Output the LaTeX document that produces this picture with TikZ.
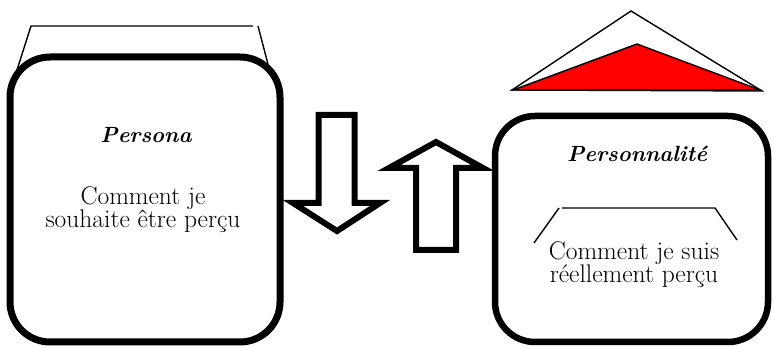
\documentclass[tikz,border=0pt]{standalone}
\usepackage{fontspec}
\begin{document}
\begin{tikzpicture}[x=1pt,y=-1pt,
  bigbox/.style={draw=black,line width=7pt,rounded corners=40pt,inner sep=0pt,fill=none},
  thin/.style={draw=black,line width=1.4pt},
  fatarrow/.style={draw=black,line width=6pt,line join=miter,fill=white},
  label/.style={font=\fontsize{25.5}{23}\selectfont,align=center,anchor=base,inner sep=0pt},
  title/.style={font=\fontsize{22}{23}\selectfont\bfseries\itshape,anchor=base,inner sep=0pt}]
\useasboundingbox (0,0) rectangle (774,347);
% left box
\node[bigbox,minimum width=270pt,minimum height=285pt] (persona) at (145,199.5) {};
\draw[thin] (17,70) -- (31,26) -- (253,26);
\draw[thin] (258,26) -- (269,68);
\node[title] (ptitle) at (146,143) {Persona};
\node[label] (ptext) at (143,228) {Comment je\\souhaite être perçu};
% right box
\node[bigbox,line width=6.5pt,minimum width=273pt,minimum height=226pt] (perso) at (631.5,229) {};
\draw[thin] (512,90) -- (631,11) -- (762,91) -- cycle;
\draw[thin,fill=red] (513,90) -- (637,44) -- (760,90) -- cycle;
\node[title] (rtitle) at (637,162) {Personnalité};
\draw[thin] (534,243) -- (559,208);
\draw[thin] (562,208) -- (715,208) -- (737,240);
\node[label] (rtext) at (634,283) {Comment je suis\\réellement perçu};
% arrows
\draw[fatarrow] (318.5,115) -- (354.5,115) -- (354.5,203) -- (380,203) -- (337,231) -- (293,203) -- (318.5,203) -- cycle;
\draw[fatarrow] (416,250) -- (456,250) -- (456,168) -- (483,168) -- (436,142) -- (389,168) -- (416,168) -- cycle;
\end{tikzpicture}
\end{document}
